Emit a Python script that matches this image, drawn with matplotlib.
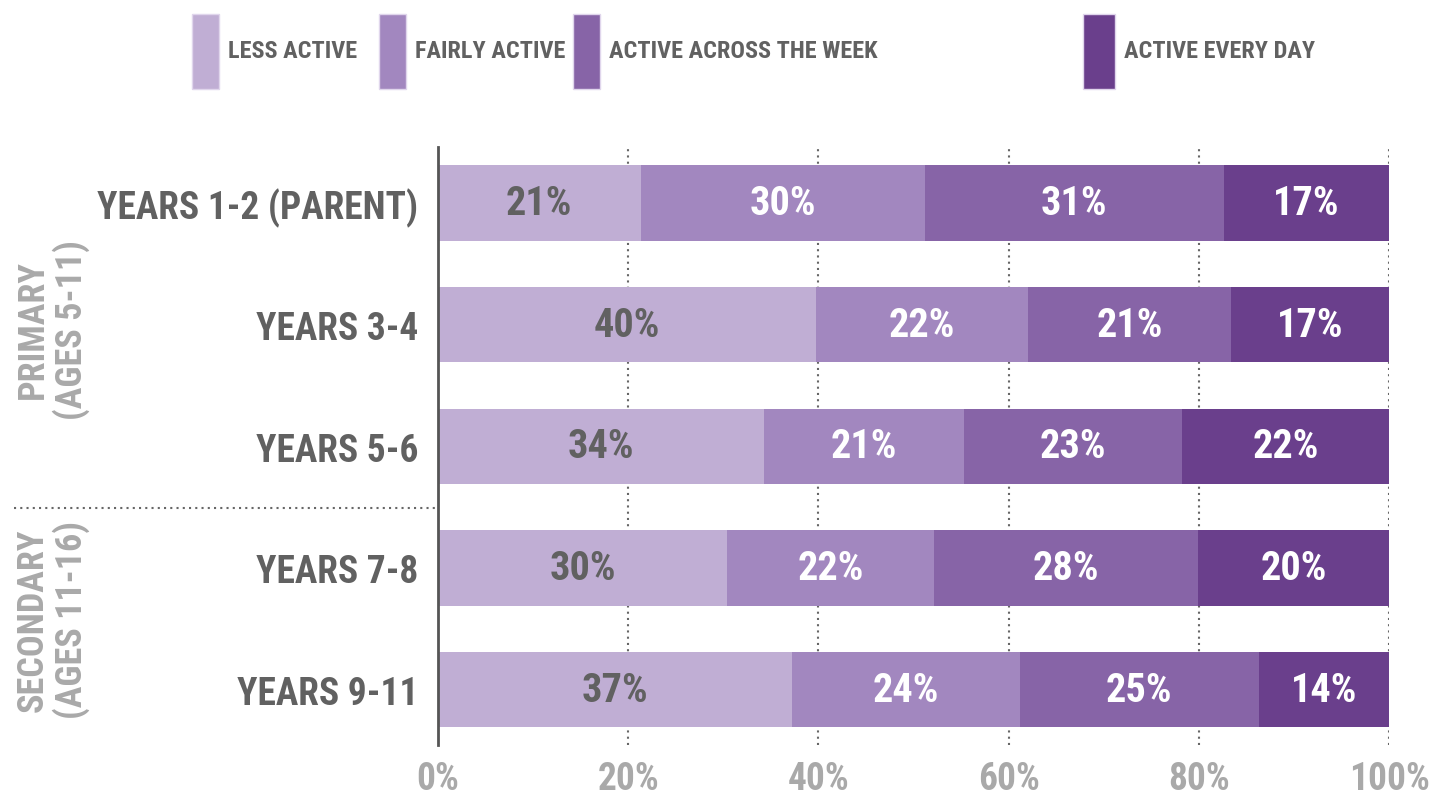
import matplotlib
matplotlib.use('Agg')
import matplotlib.pyplot as plt
from matplotlib import font_manager
from matplotlib.patches import Rectangle

# ── font: condensed bold if we have one ──
names = {f.name for f in font_manager.fontManager.ttflist}
FONT = 'DejaVu Sans'
for cand in ['Liberation Sans Narrow', 'Roboto Condensed', 'Roboto', 'Liberation Sans']:
    if cand in names:
        FONT = cand
        break
plt.rcParams['font.family'] = [FONT, 'DejaVu Sans']

# ── data ──
rows = ['YEARS 1-2 (PARENT)', 'YEARS 3-4', 'YEARS 5-6', 'YEARS 7-8', 'YEARS 9-11']
series = ['LESS ACTIVE', 'FAIRLY ACTIVE', 'ACTIVE ACROSS THE WEEK', 'ACTIVE EVERY DAY']
less_active   = [21.3, 39.7, 34.3, 30.4, 37.2]
fairly_active = [29.9, 22.3, 21.0, 21.8, 24.0]
across_week   = [31.4, 21.4, 22.9, 27.7, 25.1]
every_day     = [17.4, 16.6, 21.8, 20.1, 13.7]
groups = ['PRIMARY\n(AGES 5-11)', 'SECONDARY\n(AGES 11-16)']
xticks = [0, 20, 40, 60, 80, 100]

colors = ['#c0aed4', '#a287bf', '#8764a7', '#6a3f8c']
label_colors = ['#616161', 'white', 'white', 'white']
DARK = '#616161'
LIGHT = '#a9a9a9'

fig = plt.figure(figsize=(14.55, 8.03), dpi=100)
ax = fig.add_axes([438 / 1455, 1 - 746 / 803, 951 / 1455, 598 / 803])

values = [less_active, fairly_active, across_week, every_day]
ypos = list(range(len(rows)))
left = [0.0] * len(rows)
for vals, col, lc in zip(values, colors, label_colors):
    ax.barh(ypos, vals, left=left, height=0.62, color=col, zorder=2)
    for y, v, l in zip(ypos, vals, left):
        ax.text(l + v / 2, y, f'{round(v)}%', ha='center', va='center',
                color=lc, fontsize=29, fontweight='bold', zorder=3)
    left = [a + b for a, b in zip(left, vals)]

ax.set_xlim(0, 100)
ax.set_ylim(4.456, -0.46)
for x in xticks[1:]:
    ax.axvline(x, color='#666666', lw=1.5, ls=(0, (1, 2)), zorder=1)

for s in ['top', 'right', 'bottom']:
    ax.spines[s].set_visible(False)
ax.spines['left'].set_color('#555555')
ax.spines['left'].set_linewidth(2)

ax.set_xticks(xticks)
ax.set_xticklabels([f'{x}%' for x in xticks])
ax.tick_params(axis='x', length=0, pad=11, labelsize=27, labelcolor=LIGHT)
ax.set_yticks(ypos)
ax.set_yticklabels(rows)
ax.tick_params(axis='y', length=0, pad=14, labelsize=27, labelcolor=DARK)
for t in ax.get_xticklabels() + ax.get_yticklabels():
    t.set_fontweight('bold')

# ── group labels + separator ──
fig.text(52 / 1455, 1 - 330 / 803, groups[0], rotation=90, ha='center', va='center',
         color=LIGHT, fontsize=26, fontweight='bold', linespacing=1.05)
fig.text(52 / 1455, 1 - 620 / 803, groups[1], rotation=90, ha='center', va='center',
         color=LIGHT, fontsize=26, fontweight='bold', linespacing=1.05)
fig.add_artist(plt.Line2D([14 / 1455, 435 / 1455], [1 - 509 / 803] * 2,
                          color='#666666', lw=1.5, ls=(0, (1, 2))))

# ── legend ──
leg_x = [192, 379, 573, 1083]
leg_w = [27, 27, 27, 32]
for x, w, col, name in zip(leg_x, leg_w, colors, series):
    fig.add_artist(Rectangle((x / 1455, 1 - 90 / 803), w / 1455, 75 / 803,
                             facecolor=col, edgecolor='#e0d6ec', lw=1,
                             transform=fig.transFigure))
    fig.text((x + w + 9) / 1455, 1 - 52 / 803, name, ha='left', va='center',
             color=DARK, fontsize=17.5, fontweight='bold')

fig.savefig('out.png', dpi=100)
